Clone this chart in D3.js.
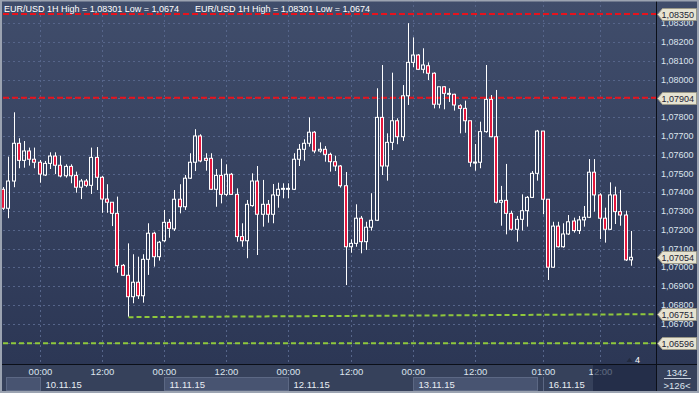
<!DOCTYPE html>
<html>
<head>
<meta charset="utf-8">
<script src="https://cdn.jsdelivr.net/npm/d3@7"></script>
<style>
body { margin: 0; background: #2c3756; }
svg { display: block; }
text { font-family: "Liberation Sans", Arial, sans-serif; }
</style>
</head>
<body>
<div id="chart"></div>
<script>

var width = 699,
    height = 393;

var plotRight = 656,
    plotBottom = 364;

// EUR/USD 1H, 09.11.15 17:00 .. 16.11.15
var open = [1.07416,1.07315,1.07460,1.07661,1.07570,1.07620,1.07576,1.07560,1.07492,1.07554,
  1.07593,1.07544,1.07488,1.07538,1.07490,1.07427,1.07460,1.07437,1.07586,1.07480,
  1.07364,1.07347,1.07288,1.07011,1.06958,1.06844,1.06921,1.06849,1.07043,1.07182,
  1.07057,1.07142,1.07240,1.07205,1.07363,1.07323,1.07475,1.07560,1.07700,1.07581,
  1.07581,1.07416,1.07490,1.07389,1.07496,1.07389,1.07164,1.07142,1.07329,1.07460,
  1.07283,1.07336,1.07283,1.07384,1.07416,1.07416,1.07416,1.07576,1.07629,1.07661,
  1.07720,1.07620,1.07629,1.07602,1.07563,1.07540,1.07435,1.07110,1.07128,1.07262,
  1.07137,1.07214,1.07251,1.07799,1.07540,1.07666,1.07781,1.07696,1.07914,1.08092,
  1.08131,1.08055,1.08074,1.08034,1.07869,1.07962,1.07922,1.07922,1.07861,1.07847,
  1.07781,1.07560,1.07560,1.07723,1.07895,1.07696,1.07347,1.07357,1.07288,1.07203,
  1.07256,1.07302,1.07373,1.07501,1.07726,1.07363,1.07001,1.07220,1.07110,1.07178,
  1.07247,1.07196,1.07253,1.07267,1.07507,1.07386,1.07262,1.07203,1.07386,1.07297,
  1.07279,1.07040];

var high = [1.07428,1.07590,1.07826,1.07688,1.07673,1.07638,1.07638,1.07572,1.07567,1.07613,
  1.07613,1.07595,1.07549,1.07549,1.07510,1.07471,1.07471,1.07638,1.07641,1.07487,
  1.07443,1.07347,1.07377,1.07018,1.07128,1.07070,1.07057,1.07070,1.07235,1.07190,
  1.07141,1.07306,1.07258,1.07412,1.07443,1.07492,1.07608,1.07736,1.07709,1.07608,
  1.07608,1.07524,1.07579,1.07549,1.07503,1.07421,1.07235,1.07359,1.07501,1.07540,
  1.07466,1.07359,1.07444,1.07451,1.07448,1.07448,1.07608,1.07657,1.07682,1.07799,
  1.07726,1.07666,1.07646,1.07611,1.07595,1.07545,1.07508,1.07150,1.07336,1.07274,
  1.07243,1.07395,1.07954,1.08078,1.07714,1.08037,1.07794,1.07971,1.08301,1.08225,
  1.08136,1.08167,1.08092,1.08039,1.07962,1.07966,1.07954,1.07925,1.07869,1.07888,
  1.07781,1.07657,1.07776,1.08078,1.07918,1.07945,1.07434,1.07551,1.07302,1.07274,
  1.07389,1.07380,1.07513,1.07732,1.07726,1.07363,1.07243,1.07243,1.07235,1.07279,
  1.07265,1.07274,1.07327,1.07577,1.07577,1.07395,1.07318,1.07453,1.07430,1.07412,
  1.07302,1.07194];

var low = [1.07306,1.07262,1.07427,1.07528,1.07531,1.07542,1.07528,1.07451,1.07487,1.07524,
  1.07497,1.07480,1.07478,1.07448,1.07398,1.07364,1.07427,1.07391,1.07412,1.07291,
  1.07291,1.07220,1.06972,1.06954,1.06738,1.06809,1.06832,1.06812,1.06960,1.07004,
  1.07036,1.07134,1.07158,1.07194,1.07288,1.07306,1.07471,1.07513,1.07560,1.07515,
  1.07412,1.07323,1.07341,1.07380,1.07386,1.07137,1.07110,1.07049,1.07323,1.07066,
  1.07217,1.07238,1.07235,1.07318,1.07368,1.07368,1.07412,1.07540,1.07568,1.07643,
  1.07608,1.07611,1.07563,1.07510,1.07513,1.07425,1.06906,1.07078,1.07110,1.07075,
  1.07093,1.07196,1.07247,1.07492,1.07462,1.07625,1.07656,1.07673,1.07865,1.08066,
  1.08051,1.08034,1.07998,1.07847,1.07847,1.07842,1.07881,1.07835,1.07714,1.07717,
  1.07536,1.07515,1.07528,1.07717,1.07693,1.07341,1.07222,1.07176,1.07196,1.07137,
  1.07196,1.07217,1.07370,1.07462,1.07283,1.06933,1.06997,1.07106,1.07105,1.07173,
  1.07185,1.07178,1.07217,1.07263,1.07297,1.07151,1.07132,1.07199,1.07231,1.07222,
  1.07034,1.07009];

var close = [1.07315,1.07460,1.07661,1.07570,1.07620,1.07576,1.07560,1.07497,1.07554,1.07593,
  1.07544,1.07487,1.07538,1.07488,1.07427,1.07460,1.07437,1.07586,1.07480,1.07364,
  1.07347,1.07288,1.07009,1.06958,1.06844,1.06921,1.06849,1.07043,1.07182,1.07057,
  1.07134,1.07240,1.07208,1.07363,1.07323,1.07475,1.07560,1.07700,1.07567,1.07570,
  1.07416,1.07490,1.07389,1.07496,1.07389,1.07164,1.07142,1.07336,1.07460,1.07283,
  1.07336,1.07283,1.07386,1.07416,1.07421,1.07421,1.07576,1.07629,1.07661,1.07720,
  1.07620,1.07629,1.07602,1.07563,1.07540,1.07435,1.07110,1.07128,1.07262,1.07137,
  1.07214,1.07251,1.07799,1.07540,1.07666,1.07781,1.07696,1.07914,1.08092,1.08131,
  1.08055,1.08078,1.08034,1.07869,1.07962,1.07927,1.07927,1.07865,1.07847,1.07781,
  1.07560,1.07561,1.07723,1.07895,1.07696,1.07347,1.07357,1.07288,1.07203,1.07256,
  1.07302,1.07373,1.07501,1.07726,1.07363,1.07001,1.07220,1.07110,1.07178,1.07243,
  1.07196,1.07253,1.07267,1.07507,1.07386,1.07262,1.07203,1.07386,1.07297,1.07279,
  1.07040,1.07054];

var priceTicks = [1.066,1.067,1.068,1.069,1.070,1.071,1.072,1.073,1.074,
                  1.075,1.076,1.077,1.078,1.079,1.080,1.081,1.082,1.083];

var timeTickIdx = [7, 19, 31, 43, 55, 67, 79, 91, 104, 115];
var timeTickLabels = ["00:00","12:00","00:00","12:00","00:00","12:00","00:00","12:00","01:00","12:00"];

var dayStart = [0, 7, 31, 55, 79, 104];
var dayEnd = [7, 31, 55, 79, 103, 121];
var dayLabels = ["09.11.15","10.11.15","11.11.15","12.11.15","13.11.15","16.11.15"];

var redLevels = [1.08350, 1.07904];
var greenLevel = 1.06596;
var trendFrom = 24, trendStartVal = 1.06735, trendEndVal = 1.06751;
var lastPrice = 1.07054;

var titleText = "EUR/USD 1H High = 1,08301 Low = 1,0674";


var svg = d3.select("#chart").append("svg").attr("width", width).attr("height", height);

var defs = svg.append("defs");
var grad = defs.append("linearGradient").attr("id", "bg").attr("x1", 0).attr("y1", 0).attr("x2", 0).attr("y2", 1);
grad.append("stop").attr("offset", "0%").attr("stop-color", "#404d6b");
grad.append("stop").attr("offset", "100%").attr("stop-color", "#2c3755");

defs.append("clipPath").attr("id", "plotclip")
  .append("rect").attr("x", 2).attr("y", 0).attr("width", plotRight - 2).attr("height", plotBottom);

svg.append("rect").attr("width", width).attr("height", plotBottom).attr("fill", "url(#bg)");

var x = d3.scaleBand().domain(d3.range(open.length)).range([0.7, 633.3]);
function xc(i) { return Math.round(x(i) + x.bandwidth() / 2) + 0.5; }

var y = d3.scaleLinear().domain([1.070, 1.083]).range([267.4, 23.3]);

var fmt = function(v) { return d3.format(".5f")(v).replace(".", ","); };

var plot = svg.append("g").attr("clip-path", "url(#plotclip)");

// grid
plot.selectAll(".hgrid")
  .data(priceTicks)
  .enter()
  .append("line")
  .attr("x1", 3).attr("x2", plotRight)
  .attr("y1", function(d) { return Math.round(y(d)) + 0.5; })
  .attr("y2", function(d) { return Math.round(y(d)) + 0.5; })
  .attr("stroke", "#56658a").attr("stroke-dasharray", "2,3");

plot.selectAll(".vgrid")
  .data(timeTickIdx)
  .enter()
  .append("line")
  .attr("x1", function(d) { return xc(d); })
  .attr("x2", function(d) { return xc(d); })
  .attr("y1", 0).attr("y2", plotBottom)
  .attr("stroke", "#56658a").attr("stroke-dasharray", "2,3");

// levels
plot.selectAll(".red")
  .data(redLevels)
  .enter()
  .append("line")
  .attr("x1", 3).attr("x2", plotRight)
  .attr("y1", function(d) { return y(d); })
  .attr("y2", function(d) { return y(d); })
  .attr("stroke", "#e8121c").attr("stroke-width", 2).attr("stroke-dasharray", "6,3");

plot.append("line")
  .attr("x1", 3).attr("x2", plotRight)
  .attr("y1", y(greenLevel)).attr("y2", y(greenLevel))
  .attr("stroke", "#8fc83c").attr("stroke-width", 2).attr("stroke-dasharray", "5,3");

plot.append("line")
  .attr("x1", xc(trendFrom)).attr("x2", plotRight)
  .attr("y1", y(trendStartVal)).attr("y2", y(trendEndVal))
  .attr("stroke", "#8fc83c").attr("stroke-width", 2).attr("stroke-dasharray", "5,3");

// candles
var candles = plot.selectAll(".candle")
  .data(d3.range(open.length))
  .enter()
  .append("g");

candles.append("line")
  .attr("x1", xc).attr("x2", xc)
  .attr("y1", function(i) { return y(high[i]); })
  .attr("y2", function(i) { return y(Math.max(open[i], close[i])); })
  .attr("stroke", "#fff");

candles.append("line")
  .attr("x1", xc).attr("x2", xc)
  .attr("y1", function(i) { return y(Math.min(open[i], close[i])); })
  .attr("y2", function(i) { return y(low[i]); })
  .attr("stroke", "#fff");

candles.append("rect")
  .attr("x", function(i) { return xc(i) - 2; })
  .attr("y", function(i) { return y(Math.max(open[i], close[i])); })
  .attr("width", 3)
  .attr("height", function(i) { return Math.max(1, y(Math.min(open[i], close[i])) - y(Math.max(open[i], close[i]))); })
  .attr("fill", function(i) { return close[i] < open[i] ? "#e5173d" : "none"; })
  .attr("stroke", "#fff");

// header
svg.append("text").attr("x", 4).attr("y", 12).attr("font-size", 9).attr("fill", "#fff").text(titleText);
svg.append("text").attr("x", 195).attr("y", 12).attr("font-size", 9).attr("fill", "#fff").text(titleText);

// right axis
svg.selectAll(".ylab")
  .data(priceTicks)
  .enter()
  .append("text")
  .attr("x", 661)
  .attr("y", function(d) { return y(d) + 3; })
  .attr("font-size", 9)
  .attr("fill", "#dde4ee")
  .text(fmt);

var tags = redLevels.concat([lastPrice, trendEndVal, greenLevel]);

var tagG = svg.selectAll(".tag")
  .data(tags)
  .enter()
  .append("g")
  .attr("transform", function(d) { return "translate(0," + Math.round(y(d)) + ")"; });

tagG.append("path")
  .attr("d", "M657.5,0.5 L662.5,-5.5 L696.5,-5.5 L696.5,6.5 L662.5,6.5 Z")
  .attr("fill", "#e6e3d1").attr("stroke", "#9a9888");

tagG.append("text")
  .attr("x", 661.5).attr("y", 4)
  .attr("font-size", 9).attr("fill", "#1c2234")
  .text(fmt);

// bottom strip
svg.append("rect").attr("x", 0).attr("y", plotBottom).attr("width", width).attr("height", height - plotBottom)
  .attr("fill", "#36415b");

var days = svg.selectAll(".day")
  .data(d3.range(dayStart.length))
  .enter()
  .append("g");

days.filter(function(k) { return k % 2 == 0; })
  .append("rect")
  .attr("x", function(k) { return Math.max(6.5, xc(dayStart[k])); })
  .attr("y", 377.5)
  .attr("width", function(k) { return xc(dayEnd[k]) - Math.max(6.5, xc(dayStart[k])); })
  .attr("height", 13)
  .attr("fill", "#485471").attr("stroke", "#5c6884");

days.filter(function(k) { return xc(dayEnd[k]) - xc(dayStart[k]) > 50; })
  .append("text")
  .attr("x", function(k) { return xc(dayStart[k]) + 5; })
  .attr("y", 388)
  .attr("font-size", 9.5)
  .attr("fill", "#e8edf4")
  .text(function(k) { return dayLabels[k]; });

svg.append("line").attr("x1", xc(dayStart[5])).attr("x2", xc(dayStart[5]))
  .attr("y1", 377).attr("y2", 391).attr("stroke", "#5c6884");

svg.selectAll(".xlab")
  .data(timeTickIdx)
  .enter()
  .append("text")
  .attr("x", function(d) { return xc(d); })
  .attr("y", 375)
  .attr("text-anchor", "middle")
  .attr("font-size", 9.5)
  .attr("fill", "#dde4ee")
  .text(function(d, i) { return timeTickLabels[i]; });

// scroll window
svg.append("rect").attr("x", 593).attr("y", plotBottom).attr("width", plotRight - 593).attr("height", 27)
  .attr("fill", "#1c2540").attr("fill-opacity", 0.65);

// marker
svg.append("path").attr("d", "M626.5,362 L629.5,358 L632.5,362 Z").attr("fill", "#222a3e");
svg.append("text").attr("x", 635).attr("y", 363).attr("font-size", 9).attr("fill", "#fff").text("4");

// bottom right
svg.append("text").attr("x", 677).attr("y", 375.5).attr("text-anchor", "middle")
  .attr("font-size", 9.5).attr("fill", "#dde4ee").text("1342");
svg.append("line").attr("x1", 664).attr("x2", 691).attr("y1", 378.5).attr("y2", 378.5).attr("stroke", "#c9d1dd");
svg.append("text").attr("x", 677).attr("y", 389).attr("text-anchor", "middle")
  .attr("font-size", 9.5).attr("fill", "#dde4ee").text(">126<");

// frame lines
svg.append("line").attr("x1", 0).attr("x2", width).attr("y1", plotBottom + 0.5).attr("y2", plotBottom + 0.5)
  .attr("stroke", "#0b0f18");
svg.append("line").attr("x1", plotRight + 0.5).attr("x2", plotRight + 0.5).attr("y1", 0).attr("y2", height)
  .attr("stroke", "#0b0f18");
svg.append("rect").attr("x", 1).attr("y", 0.5).attr("width", width - 2).attr("height", height - 1.5)
  .attr("fill", "none").attr("stroke", "#9ba3b1").attr("stroke-width", 2);

</script>
</body>
</html>
